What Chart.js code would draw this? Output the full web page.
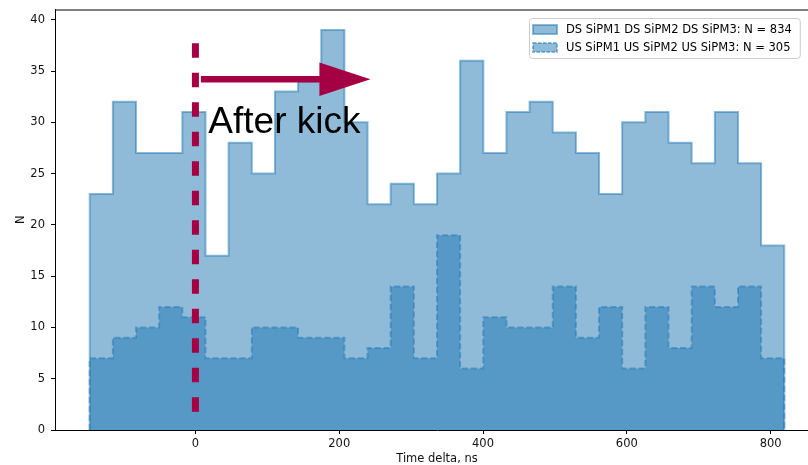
<!DOCTYPE html>
<html lang="en">
<head>
  <meta charset="UTF-8">
  <title>Time delta histogram</title>
  <script src="https://cdn.jsdelivr.net/npm/chart.js"></script>
  <style>
    html, body { margin: 0; padding: 0; background: #fff; overflow: hidden; }
    #wrap { width: 830px; height: 465px; }
  </style>
</head>
<body>
  <div id="wrap"><canvas id="hist" width="830" height="465"></canvas></div>

  <script>
    // histogram bins (ns) and counts
    const binEdges = [-147, -114.8, -82.6, -50.4, -18.2, 14, 46.2, 78.4, 110.6, 142.8,
      175, 207.2, 239.4, 271.6, 303.8, 336, 368.2, 400.4, 432.6, 464.8,
      497, 529.2, 561.4, 593.6, 625.8, 658, 690.2, 722.4, 754.6, 786.8, 819];
    const dsCounts = [23, 32, 27, 27, 31, 17, 28, 25, 33, 34, 39, 30, 22, 24, 22,
      25, 36, 27, 31, 32, 29, 27, 23, 30, 31, 28, 26, 31, 26, 18];
    const usCounts = [7, 9, 10, 12, 11, 7, 7, 10, 10, 9, 9, 7, 8, 14, 7,
      19, 6, 11, 10, 10, 14, 9, 12, 6, 12, 8, 14, 12, 14, 7];
    const dsLabel = 'DS SiPM1 DS SiPM2 DS SiPM3: N = 834';
    const usLabel = 'US SiPM1 US SiPM2 US SiPM3: N = 305';

    const xTicks = [0, 200, 400, 600, 800];
    const yTicks = [0, 5, 10, 15, 20, 25, 30, 35, 40];
    const xRange = [-195.3, 867.3];
    const yRange = [0, 41];

    // annotation: kick marker, arrow and note
    const kickX = 0;
    const kickY = [37.7, 1.55];
    const arrowX = [7.6, 243.4];
    const arrowY = 34.2;
    const noteText = 'After kick';
    const notePos = [18, 29.0];

    const C0_HALF = 'rgba(31,119,180,0.5)';
    const KICK = '#a60044';
    const FONT = '"DejaVu Sans", sans-serif';

    function stepPoints(counts) {
      const last = binEdges.length - 1;
      const pts = [{ x: binEdges[0], y: 0 }];
      counts.forEach((c, i) => pts.push({ x: binEdges[i], y: c }));
      pts.push({ x: binEdges[last], y: counts[counts.length - 1] });
      pts.push({ x: binEdges[last], y: 0 });
      return pts;
    }

    const extras = {
      id: 'extras',
      afterDatasetsDraw(chart) {
        const { ctx, scales: { x, y } } = chart;
        ctx.save();
        // vertical dashed line at kick
        ctx.strokeStyle = KICK;
        ctx.lineWidth = 7;
        ctx.setLineDash([14.3, 15.2]);
        ctx.beginPath();
        ctx.moveTo(x.getPixelForValue(kickX), y.getPixelForValue(kickY[0]));
        ctx.lineTo(x.getPixelForValue(kickX), y.getPixelForValue(kickY[1]));
        ctx.stroke();
        ctx.setLineDash([]);

        // arrow
        const ay = y.getPixelForValue(arrowY);
        const x0 = x.getPixelForValue(arrowX[0]);
        const x1 = x.getPixelForValue(arrowX[1]);
        const headLen = 51, headHalf = 16.7, shaftHalf = 3.3;
        ctx.fillStyle = KICK;
        ctx.beginPath();
        ctx.moveTo(x0, ay - shaftHalf);
        ctx.lineTo(x1 - headLen, ay - shaftHalf);
        ctx.lineTo(x1 - headLen, ay - headHalf);
        ctx.lineTo(x1, ay);
        ctx.lineTo(x1 - headLen, ay + headHalf);
        ctx.lineTo(x1 - headLen, ay + shaftHalf);
        ctx.lineTo(x0, ay + shaftHalf);
        ctx.closePath();
        ctx.fill();

        // note
        ctx.fillStyle = '#000';
        ctx.font = '37px "Liberation Sans", Arial, sans-serif';
        ctx.textBaseline = 'alphabetic';
        ctx.textAlign = 'left';
        ctx.fillText(noteText, x.getPixelForValue(notePos[0]), y.getPixelForValue(notePos[1]));
        ctx.restore();
      },
      afterDraw(chart) {
        const { ctx, chartArea: a } = chart;
        ctx.save();
        // top spine
        ctx.strokeStyle = '#000';
        ctx.lineWidth = 1;
        ctx.beginPath();
        ctx.moveTo(a.left, a.top + 0.5);
        ctx.lineTo(a.right, a.top + 0.5);
        ctx.stroke();

        // legend
        ctx.font = '11.5px ' + FONT;
        const tw = Math.max(ctx.measureText(dsLabel).width, ctx.measureText(usLabel).width);
        const bx = 529, by = 18.5, bw = 566 - bx + tw + 8, bh = 40;
        ctx.fillStyle = 'rgba(255,255,255,0.8)';
        ctx.strokeStyle = '#cccccc';
        ctx.beginPath();
        ctx.roundRect(bx + 0.5, by, bw, bh, 3);
        ctx.fill();
        ctx.stroke();

        const rows = [[dsLabel, []], [usLabel, [3.5, 1.5]]];
        rows.forEach(([txt, dash], i) => {
          const cy = 29.5 + i * 18;
          ctx.fillStyle = C0_HALF;
          ctx.fillRect(533, cy - 4.5, 24, 9);
          ctx.strokeStyle = C0_HALF;
          ctx.lineWidth = 2;
          ctx.setLineDash(dash);
          ctx.strokeRect(533, cy - 4.5, 24, 9);
          ctx.setLineDash([]);
          ctx.fillStyle = '#000';
          ctx.textBaseline = 'middle';
          ctx.fillText(txt, 566, cy + 0.5);
        });
        ctx.restore();
      }
    };

    new Chart(document.getElementById('hist'), {
      type: 'line',
      data: {
        datasets: [
          {
            label: dsLabel,
            data: stepPoints(dsCounts),
            stepped: true,
            fill: 'origin',
            backgroundColor: C0_HALF,
            borderColor: C0_HALF,
            borderWidth: 2,
            pointRadius: 0,
            order: 2
          },
          {
            label: usLabel,
            data: stepPoints(usCounts),
            stepped: true,
            fill: 'origin',
            backgroundColor: C0_HALF,
            borderColor: C0_HALF,
            borderWidth: 2,
            borderDash: [6, 3],
            pointRadius: 0,
            order: 1
          }
        ]
      },
      options: {
        responsive: false,
        animation: false,
        layout: { padding: { left: 0, right: 11, top: 9.5, bottom: 0 } },
        plugins: { legend: { display: false }, tooltip: { enabled: false } },
        scales: {
          x: {
            type: 'linear',
            min: xRange[0],
            max: xRange[1],
            afterBuildTicks: s => { s.ticks = xTicks.map(v => ({ value: v })); },
            afterFit: s => { s.height = 35; s.paddingLeft = 0; s.paddingRight = 0; },
            grid: { drawOnChartArea: false, tickLength: 4, tickColor: '#000' },
            border: { color: '#000', width: 1 },
            ticks: { color: '#111', font: { family: FONT, size: 11.5 }, padding: 3 },
            title: {
              display: true,
              text: 'Time delta, ns',
              color: '#111',
              font: { family: FONT, size: 11.5, lineHeight: 1 },
              padding: { top: 0, bottom: 0 }
            }
          },
          y: {
            min: yRange[0],
            max: yRange[1],
            afterBuildTicks: s => { s.ticks = yTicks.map(v => ({ value: v })); },
            afterFit: s => { s.width = 55; s.paddingTop = 0; s.paddingBottom = 0; },
            grid: { drawOnChartArea: false, tickLength: 4, tickColor: '#000' },
            border: { color: '#000', width: 1 },
            ticks: { color: '#111', font: { family: FONT, size: 11.5 }, padding: 6 },
            title: {
              display: true,
              text: 'N',
              color: '#111',
              font: { family: FONT, size: 11.5, lineHeight: 1 },
              padding: { top: 15, bottom: 0 }
            }
          }
        }
      },
      plugins: [extras]
    });
  </script>
</body>
</html>
